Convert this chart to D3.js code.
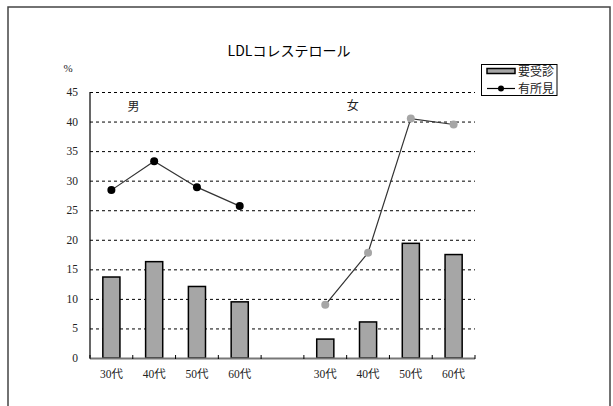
<!DOCTYPE html>
<html><head><meta charset="utf-8">
<script src="https://cdn.jsdelivr.net/npm/d3@7/dist/d3.min.js"></script>
<style>
html,body{margin:0;padding:0;background:#fff;}
svg{display:block;}
</style></head>
<body>
<script>
const title = "LDLコレステロール";
const groups = ["男", "女"];
const ages = ["30代", "40代", "50代", "60代"];
const seriesNames = ["要受診", "有所見"];
const barMen = [13.7, 16.3, 12.1, 9.5];
const barWomen = [3.2, 6.1, 19.4, 17.5];
const lineMen = [28.4, 33.3, 28.9, 25.7];
const lineWomen = [9.0, 17.8, 40.5, 39.5];
const yTicks = [0, 5, 10, 15, 20, 25, 30, 35, 40, 45];

(function () {
const W = 613, H = 406;
const svg = d3.select("body").append("svg").attr("width", W).attr("height", H);

// outer frame
svg.append("rect").attr("x", 8).attr("y", 7).attr("width", 602).attr("height", 420)
  .attr("fill", "none").attr("stroke", "#444").attr("stroke-width", 1.5);

const pl = 90, pr = 475, pt = 92, pb = 358;
const domain = [];
ages.forEach(a => domain.push("m-" + a));
domain.push("gap");
ages.forEach(a => domain.push("f-" + a));
const x = d3.scaleBand().domain(domain).range([pl, pr]).paddingInner(0).paddingOuter(0);
const y = d3.scaleLinear().domain([0, 45]).range([pb, pt]);

const serif = "'Liberation Serif','Noto Sans CJK JP',serif";
const cjk = "'Noto Sans CJK JP',sans-serif";

// gridlines
svg.append("g").selectAll("line").data(yTicks.filter(d => d > 0)).join("line")
  .attr("x1", pl).attr("x2", pr)
  .attr("y1", d => y(d) + 0.5).attr("y2", d => y(d) + 0.5)
  .attr("stroke", "#000").attr("stroke-width", 1).attr("stroke-dasharray", "3,3");

// y labels
svg.append("g").selectAll("text").data(yTicks).join("text")
  .attr("x", pl - 12).attr("y", d => y(d) + 4)
  .attr("text-anchor", "end").attr("font-family", serif).attr("font-size", 11.5)
  .attr("fill", "#222").text(d => d);
svg.append("text").attr("x", 68).attr("y", 72).attr("text-anchor", "middle")
  .attr("font-family", serif).attr("font-size", 11).attr("fill", "#222").text("%");

// bars
const barData = [];
ages.forEach((a, i) => barData.push({k: "m-" + a, v: barMen[i]}));
ages.forEach((a, i) => barData.push({k: "f-" + a, v: barWomen[i]}));
const bw = x.bandwidth() * 0.4;
svg.append("g").selectAll("rect").data(barData).join("rect")
  .attr("x", d => x(d.k) + x.bandwidth() / 2 - bw / 2)
  .attr("y", d => y(d.v))
  .attr("width", bw).attr("height", d => y(0) - y(d.v))
  .attr("fill", "#a6a6a6").attr("stroke", "#000").attr("stroke-width", 1.5);

// y axis
svg.append("line").attr("x1", pl).attr("x2", pl).attr("y1", pt).attr("y2", pb)
  .attr("stroke", "#000").attr("stroke-width", 1.2);
// x axis
svg.append("line").attr("x1", pl).attr("x2", pr).attr("y1", pb + 0.5).attr("y2", pb + 0.5)
  .attr("stroke", "#777").attr("stroke-width", 2);
svg.append("g").selectAll("line").data(d3.range(domain.length + 1)).join("line")
  .attr("x1", i => pl + i * x.bandwidth()).attr("x2", i => pl + i * x.bandwidth())
  .attr("y1", pb - 3).attr("y2", pb + 1)
  .attr("stroke", "#000").attr("stroke-width", 1);

// x labels
svg.append("g").selectAll("text").data(domain.filter(d => d !== "gap")).join("text")
  .attr("x", d => x(d) + x.bandwidth() / 2).attr("y", 378)
  .attr("text-anchor", "middle").attr("font-family", serif).attr("font-size", 11.5)
  .attr("fill", "#222").text(d => d.slice(2));

// lines
const line = d3.line().x(d => x(d.k) + x.bandwidth() / 2).y(d => y(d.v));
const lm = ages.map((a, i) => ({k: "m-" + a, v: lineMen[i]}));
const lf = ages.map((a, i) => ({k: "f-" + a, v: lineWomen[i]}));
[[lm, "#000"], [lf, "#a6a6a6"]].forEach(([data, col]) => {
  svg.append("path").datum(data).attr("d", line).attr("fill", "none")
    .attr("stroke", "#333").attr("stroke-width", 1.2);
  svg.append("g").selectAll("circle").data(data).join("circle")
    .attr("cx", d => x(d.k) + x.bandwidth() / 2).attr("cy", d => y(d.v))
    .attr("r", 4).attr("fill", col);
});

// group labels
svg.append("text").attr("x", x("m-30代") + x.bandwidth() * 0.5 + 22).attr("y", 111)
  .attr("text-anchor", "middle").attr("font-family", cjk).attr("font-size", 12)
  .attr("fill", "#222").text(groups[0]);
svg.append("text").attr("x", x("f-40代") + 6).attr("y", 110)
  .attr("text-anchor", "middle").attr("font-family", cjk).attr("font-size", 12)
  .attr("fill", "#222").text(groups[1]);

// title
svg.append("text").attr("x", 289).attr("y", 56).attr("text-anchor", "middle")
  .attr("font-family", cjk).attr("font-size", 14).attr("fill", "#000").text(title);

// legend
const lg = svg.append("g");
lg.append("rect").attr("x", 481.5).attr("y", 64.5).attr("width", 75.5).attr("height", 31)
  .attr("fill", "#fff").attr("stroke", "#000").attr("stroke-width", 1);
lg.append("rect").attr("x", 487).attr("y", 68.5).attr("width", 28).attr("height", 5)
  .attr("fill", "#a6a6a6").attr("stroke", "#000").attr("stroke-width", 1.5);
lg.append("text").attr("x", 518).attr("y", 75.5).attr("font-family", cjk).attr("font-size", 12)
  .attr("fill", "#222").text(seriesNames[0]);
lg.append("line").attr("x1", 487).attr("x2", 515).attr("y1", 88.5).attr("y2", 88.5)
  .attr("stroke", "#000").attr("stroke-width", 1.2);
lg.append("circle").attr("cx", 501).attr("cy", 88.5).attr("r", 3).attr("fill", "#000");
lg.append("text").attr("x", 518).attr("y", 92.5).attr("font-family", cjk).attr("font-size", 12)
  .attr("fill", "#222").text(seriesNames[1]);
})();
</script>
</body></html>
